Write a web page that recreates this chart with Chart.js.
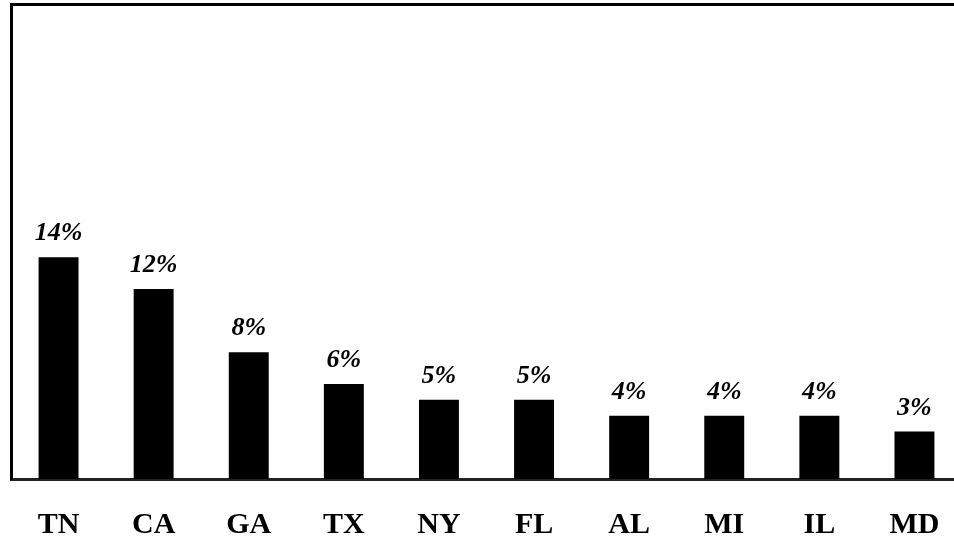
<!DOCTYPE html>
<html>
<head>
<meta charset="utf-8">
<script src="https://cdn.jsdelivr.net/npm/chart.js@4.4.1/dist/chart.umd.min.js"></script>
<style>
  html, body { margin: 0; padding: 0; background: #fff; overflow: hidden; }
  #wrap { width: 954px; height: 540px; overflow: hidden; }
</style>
</head>
<body>
<!-- canvas is a bit wider than the page: the original plot runs past the right edge -->
<div id="wrap"><canvas id="barchart" width="962" height="540"></canvas></div>
<script>
var states = ['TN', 'CA', 'GA', 'TX', 'NY', 'FL', 'AL', 'MI', 'IL', 'MD'];
var shares = [14, 12, 8, 6, 5, 5, 4, 4, 4, 3];
var shareLabels = ['14%', '12%', '8%', '6%', '5%', '5%', '4%', '4%', '4%', '3%'];

// writes the percent above each bar
var valueLabels = {
    id: 'valueLabels',
    afterDatasetsDraw: function(chart) {
        var ctx = chart.ctx;
        var meta = chart.getDatasetMeta(0);
        ctx.save();
        ctx.font = 'italic bold 26px "Liberation Serif"';
        ctx.fillStyle = '#000';
        ctx.textAlign = 'center';
        ctx.textBaseline = 'alphabetic';
        meta.data.forEach(function(bar, i) {
            ctx.fillText(shareLabels[i], bar.x, bar.y - 17);
        });
        ctx.restore();
    }
};

function noSidePadding(scale) {
    scale.paddingLeft = 0;
    scale.paddingRight = 0;
}

var ctx = document.getElementById('barchart').getContext('2d');
var barChart = new Chart(ctx, {
    type: 'bar',
    data: {
        labels: states,
        datasets: [{
            data: shares,
            backgroundColor: '#000',
            borderWidth: 0,
            barPercentage: 0.42,
            categoryPercentage: 1
        }]
    },
    options: {
        responsive: false,
        animation: false,
        layout: {
            padding: { left: 11, top: 4, right: 0, bottom: 0 }
        },
        plugins: {
            legend: { display: false },
            tooltip: { enabled: false }
        },
        scales: {
            x: {
                position: 'bottom',
                grid: { display: false, drawTicks: false },
                border: { display: true, color: '#222', width: 3 },
                ticks: {
                    color: '#000',
                    padding: 28,
                    font: { family: '"Liberation Serif"', size: 30, weight: 'bold' }
                },
                afterFit: function(scale) {
                    scale.height = 61;
                    noSidePadding(scale);
                }
            },
            xTop: {
                type: 'category',
                labels: states,
                position: 'top',
                grid: { display: false, drawTicks: false },
                border: { display: true, color: '#000', width: 3 },
                ticks: { display: false },
                afterFit: noSidePadding
            },
            y: {
                min: 0,
                max: 30,
                grid: { display: false, drawTicks: false },
                border: { display: true, color: '#000', width: 3 },
                ticks: { display: false }
            }
        }
    },
    plugins: [valueLabels]
});
</script>
</body>
</html>
